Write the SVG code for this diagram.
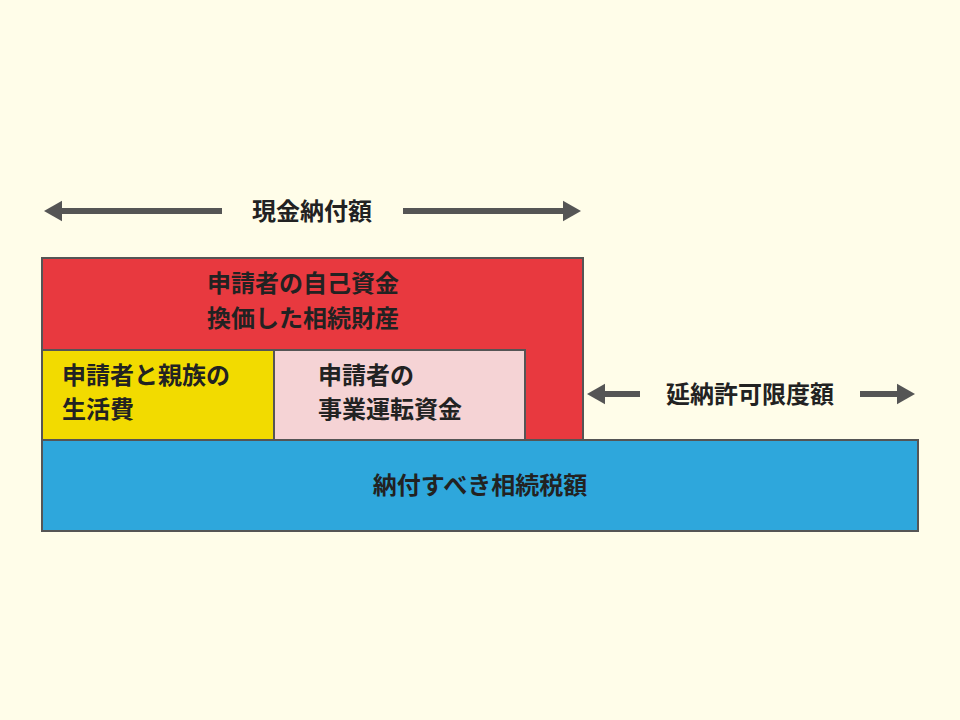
<svg xmlns="http://www.w3.org/2000/svg" width="960" height="720" viewBox="0 0 960 720">
<style>
.b{stroke:#555;stroke-width:2}
.t{font-family:"Noto Sans CJK JP",sans-serif;font-weight:bold;font-size:24px;fill:#222}
.a{stroke:#555;stroke-width:6}
</style>
<defs><marker id="h" markerWidth="4" markerHeight="4" refX="2" refY="2" orient="auto-start-reverse" markerUnits="strokeWidth"><path d="M0,0.3L3,2L0,3.7z" fill="#555"/></marker></defs>
<rect width="960" height="720" fill="#FFFDE9"/>
<g id="connectors">
<line class="a" x1="50" y1="211" x2="222" y2="211" marker-start="url(#h)"/>
<line class="a" x1="403" y1="211" x2="575" y2="211" marker-end="url(#h)"/>
<line class="a" x1="593" y1="394" x2="640" y2="394" marker-start="url(#h)"/>
<line class="a" x1="860" y1="394" x2="909" y2="394" marker-end="url(#h)"/>
</g>
<text class="t" x="312" y="220" text-anchor="middle">現金納付額</text>
<text class="t" x="750" y="403" text-anchor="middle">延納許可限度額</text>
<g id="red"><rect class="b" x="42" y="258" width="541" height="182" fill="#E8393F"/>
<text class="t" x="303" y="292" text-anchor="middle">申請者の自己資金</text>
<text class="t" x="303" y="327" text-anchor="middle">換価した相続財産</text></g>
<g id="yellow"><rect class="b" x="42" y="350" width="232" height="90" fill="#F2DB00"/>
<text class="t" x="62" y="384">申請者と親族の</text>
<text class="t" x="62" y="418">生活費</text></g>
<g id="pink"><rect class="b" x="274" y="350" width="251" height="90" fill="#F5D3D5"/>
<text class="t" x="318" y="384">申請者の</text>
<text class="t" x="318" y="418">事業運転資金</text></g>
<g id="blue"><rect class="b" x="42" y="440" width="876" height="91" fill="#2EA7DC"/>
<text class="t" x="480" y="494" text-anchor="middle">納付すべき相続税額</text></g>
</svg>
